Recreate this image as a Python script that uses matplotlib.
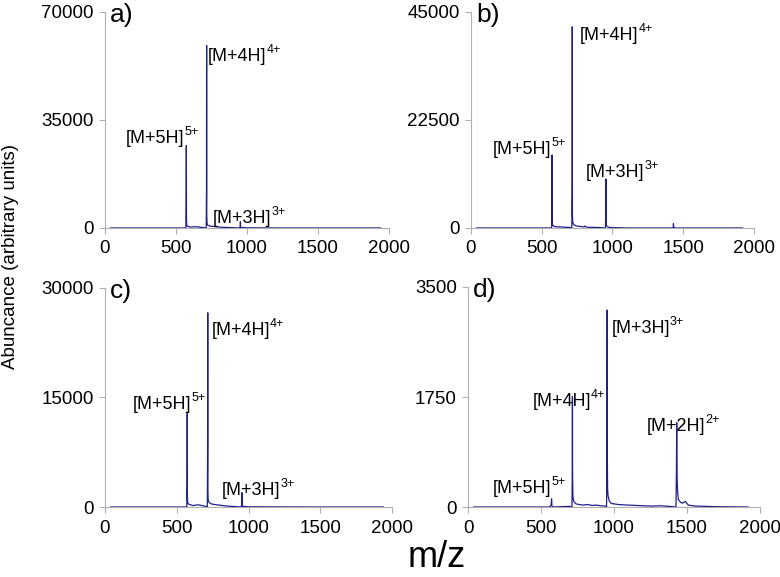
import numpy as np
import matplotlib
matplotlib.use("Agg")
import matplotlib.pyplot as plt

plt.rcParams['font.family'] = ['Liberation Sans', 'DejaVu Sans']

# spectra (m/z, abundance)
a_mz = [40, 570, 572, 573, 574, 576, 580, 600, 640, 680, 713, 715, 716, 717, 719, 724, 740, 760, 800, 860, 950, 953, 954, 955, 958, 1000, 1200, 1500, 1940]
a_int = [0, 0, 9000, 26700, 3000, 900, 600, 300, 400, 200, 0, 12000, 59100, 4000, 1500, 900, 600, 500, 300, 150, 0, 800, 2000, 400, 150, 50, 0, 0, 0]

b_mz = [40, 570, 572, 573, 574, 576, 582, 600, 640, 700, 713, 715, 716, 717, 719, 726, 745, 780, 800, 805, 820, 900, 950, 953, 954, 955, 957, 962, 980, 1100, 1428, 1430, 1431, 1433, 1440, 1920]
b_int = [0, 0, 5000, 15200, 2000, 700, 400, 250, 200, 100, 0, 9000, 41900, 3000, 1200, 700, 400, 300, 200, 400, 150, 100, 0, 3000, 10200, 1500, 600, 300, 100, 0, 0, 300, 900, 200, 0, 0]

c_mz = [40, 570, 572, 573, 574, 576, 582, 610, 650, 700, 713, 715, 716, 717, 719, 726, 745, 780, 840, 950, 953, 954, 955, 958, 1000, 1400, 1940]
c_int = [0, 0, 4000, 12840, 1500, 600, 400, 200, 300, 100, 0, 8000, 26600, 2500, 1000, 600, 400, 300, 150, 0, 700, 1960, 400, 100, 30, 0, 0]

d_mz = [40, 560, 570, 573, 575, 580, 700, 713, 715, 716, 717, 719, 722, 728, 740, 760, 790, 820, 850, 880, 910, 940, 950, 953, 954, 955, 957, 960, 968, 980, 1000, 1030, 1060, 1100, 1150, 1200, 1260, 1320, 1380, 1426, 1429, 1431, 1432, 1434, 1437, 1442, 1455, 1470, 1490, 1510, 1560, 1700, 1920]
d_int = [0, 0, 30, 130, 20, 0, 10, 0, 600, 1755, 500, 200, 120, 80, 50, 40, 30, 40, 25, 30, 20, 15, 0, 1200, 3134, 900, 300, 180, 100, 60, 50, 40, 35, 30, 25, 20, 15, 20, 10, 0, 600, 1341, 800, 430, 250, 120, 80, 60, 90, 30, 15, 5, 0]

y_max = [70000, 45000, 30000, 3500]
panel_tags = ['a)', 'b)', 'c)', 'd)']

# peak labels: (ion, charge, m/z of left edge, baseline abundance)
a_labels = [('[M+4H]', '4+', 725, 54100), ('[M+5H]', '5+', 148, 27600), ('[M+3H]', '3+', 760, 1700)]
b_labels = [('[M+4H]', '4+', 770, 39200), ('[M+5H]', '5+', 153, 15400), ('[M+3H]', '3+', 813, 10700)]
c_labels = [('[M+4H]', '4+', 743, 23560), ('[M+5H]', '5+', 193, 13380), ('[M+3H]', '3+', 813, 1640)]
d_labels = [('[M+3H]', '3+', 984, 2763), ('[M+4H]', '4+', 443, 1607), ('[M+2H]', '2+', 1224, 1209), ('[M+5H]', '5+', 173, 218)]

spectra = [(a_mz, a_int), (b_mz, b_int), (c_mz, c_int), (d_mz, d_int)]
labels = [a_labels, b_labels, c_labels, d_labels]

# axes rectangles in figure fractions
rects = [[0.1346, 0.6049, 0.364, 0.3744],
         [0.6038, 0.6049, 0.3628, 0.3744],
         [0.1346, 0.1213, 0.368, 0.3796],
         [0.6000, 0.1213, 0.374, 0.3813]]

fig = plt.figure(figsize=(7.8, 5.77), dpi=100)
grey = '#b0b0b0'
line_col = '#1f1f8c'

for k in range(4):
    ax = fig.add_axes(rects[k])
    mz, ab = spectra[k]
    ax.plot(mz, ab, color=line_col, lw=0.9, zorder=3)
    ax.set_xlim(0, 2000)
    ax.set_ylim(0, y_max[k])
    ax.set_xticks([0, 500, 1000, 1500, 2000])
    ax.set_yticks([0, y_max[k] / 2, y_max[k]])
    ax.set_yticklabels(['0', '%g' % (y_max[k] / 2), '%g' % y_max[k]])
    for s in ['top', 'right']:
        ax.spines[s].set_visible(False)
    for s in ['left', 'bottom']:
        ax.spines[s].set_color(grey)
        ax.spines[s].set_linewidth(0.8)
    ax.tick_params(axis='both', colors=grey, labelcolor='black', labelsize=13.5,
                   length=4, width=0.8, direction='out')
    ax.tick_params(axis='x', pad=5)
    ax.tick_params(axis='y', pad=4)
    ax.patch.set_alpha(0)
    ax.text(0.018, 0.985, panel_tags[k], transform=ax.transAxes, fontsize=19,
            ha='left', va='center')
    for ion, charge, x, y in labels[k]:
        t = ax.text(x, y, ion, fontsize=13, ha='left', va='baseline', zorder=4)
        ax.annotate(charge, xy=(1.0, 0.52), xycoords=t, fontsize=9,
                    ha='left', va='bottom', zorder=4)

fig.text(0.56, 0.003, 'm/z', fontsize=26, ha='center', va='bottom')
fig.text(0.013, 0.555, 'Abuncance (arbitrary units)', fontsize=13.5, rotation=90,
         ha='center', va='center')

fig.savefig('out.png', dpi=100)
